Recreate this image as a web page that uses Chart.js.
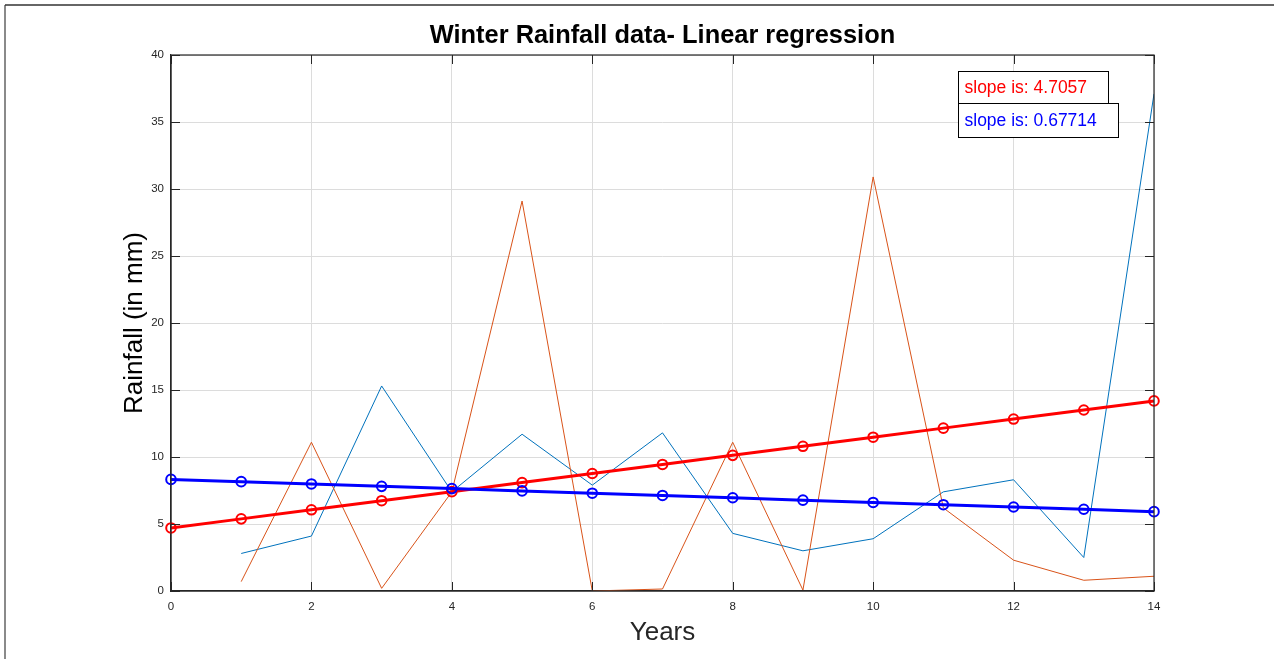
<!DOCTYPE html>
<html>
<head>
<meta charset="utf-8">
<title>Winter Rainfall data- Linear regression</title>
<script src="https://cdn.jsdelivr.net/npm/chart.js@4.4.1/dist/chart.umd.min.js"></script>
<style>
  html, body { margin: 0; padding: 0; background: #ffffff; }
  #wrap { width: 1274px; height: 659px; }
</style>
</head>
<body>
<div id="wrap"><canvas id="chart" width="1274" height="659"></canvas></div>
<script>
// Years observed (x positions of the rainfall records)
const years = [1, 2, 3, 4, 5, 6, 7, 8, 9, 10, 11, 12, 13, 14];
// Winter rainfall, station A (mm)
const rainA = [2.8, 4.1, 15.3, 7.4, 11.7, 7.9, 11.8, 4.3, 3.0, 3.9, 7.4, 8.3, 2.5, 37.1];
// Winter rainfall, station B (mm)
const rainB = [0.7, 11.1, 0.2, 7.4, 29.1, 0.0, 0.15, 11.1, 0.07, 30.9, 6.2, 2.3, 0.8, 1.1];

// Fitted trend lines, sampled at every year from 0 to 14
const fitYears = [0, 1, 2, 3, 4, 5, 6, 7, 8, 9, 10, 11, 12, 13, 14];
const fitRed = [4.7057, 5.3828, 6.0600, 6.7371, 7.4143, 8.0914, 8.7685, 9.4457,
                10.1228, 10.8000, 11.4771, 12.1542, 12.8314, 13.5085, 14.1857];
const fitBlue = [8.33, 8.16, 7.99, 7.81, 7.64, 7.47, 7.30, 7.13,
                 6.96, 6.78, 6.61, 6.44, 6.27, 6.10, 5.92];

// Tick values
const xTicks = [0, 2, 4, 6, 8, 10, 12, 14];
const yTicks = [0, 5, 10, 15, 20, 25, 30, 35, 40];

// Text labels
const chartTitle = 'Winter Rainfall data- Linear regression';
const xTitle = 'Years';
const yTitle = 'Rainfall (in mm)';
const slopeNotes = ['slope is: 4.7057', 'slope is: 0.67714'];

const FONT = '"Liberation Sans", Arial, Helvetica, sans-serif';
const AXIS = '#262626';

const pairs = (xs, ys) => xs.map((x, i) => ({ x: x, y: ys[i] }));

// Frame, box axes, inward tick marks, title and the slope notes
const decorations = {
  id: 'decorations',
  beforeDraw(chart) {
    const ctx = chart.ctx;
    ctx.save();
    ctx.fillStyle = '#ffffff';
    ctx.fillRect(0, 0, chart.width, chart.height);
    // outer figure frame
    ctx.strokeStyle = '#8a8a8a';
    ctx.lineWidth = 2;
    ctx.beginPath();
    ctx.moveTo(5, 659);
    ctx.lineTo(5, 5);
    ctx.stroke();
    ctx.strokeStyle = '#333333';
    ctx.lineWidth = 1.5;
    ctx.beginPath();
    ctx.moveTo(5, 5);
    ctx.lineTo(1274, 5);
    ctx.stroke();
    ctx.restore();
  },
  afterDraw(chart) {
    const ctx = chart.ctx;
    const a = chart.chartArea;
    const xs = chart.scales.x, ys = chart.scales.y;
    ctx.save();
    // axes box
    ctx.strokeStyle = AXIS;
    ctx.lineWidth = 1.2;
    ctx.strokeRect(a.left, a.top, a.right - a.left, a.bottom - a.top);
    // inward ticks on all four sides
    const tl = 9;
    ctx.beginPath();
    xTicks.forEach(v => {
      const px = Math.round(xs.getPixelForValue(v)) + 0.5;
      ctx.moveTo(px, a.bottom); ctx.lineTo(px, a.bottom - tl);
      ctx.moveTo(px, a.top); ctx.lineTo(px, a.top + tl);
    });
    yTicks.forEach(v => {
      const py = Math.round(ys.getPixelForValue(v)) + 0.5;
      ctx.moveTo(a.left, py); ctx.lineTo(a.left + tl, py);
      ctx.moveTo(a.right, py); ctx.lineTo(a.right - tl, py);
    });
    ctx.lineWidth = 1;
    ctx.stroke();

    // title
    ctx.fillStyle = '#000000';
    ctx.font = 'bold 25.4px ' + FONT;
    ctx.textAlign = 'center';
    ctx.textBaseline = 'middle';
    ctx.fillText(chartTitle, (a.left + a.right) / 2, 36);

    // slope notes
    ctx.font = '17.5px ' + FONT;
    ctx.textAlign = 'left';
    const boxes = [
      { x: 958.5, y: 71.5, w: 150, h: 32, color: '#ff0000', text: slopeNotes[0] },
      { x: 958.5, y: 103.5, w: 160, h: 34, color: '#0000ff', text: slopeNotes[1] }
    ];
    boxes.forEach(b => {
      ctx.fillStyle = '#ffffff';
      ctx.fillRect(b.x, b.y, b.w, b.h);
      ctx.strokeStyle = '#000000';
      ctx.lineWidth = 1;
      ctx.strokeRect(b.x, b.y, b.w, b.h);
      ctx.fillStyle = b.color;
      ctx.fillText(b.text, b.x + 6, b.y + b.h / 2 + 1);
    });
    ctx.restore();
  }
};

new Chart(document.getElementById('chart'), {
  type: 'line',
  data: {
    datasets: [
      {
        label: 'Trend (blue)',
        data: pairs(fitYears, fitBlue),
        borderColor: '#0000ff',
        borderWidth: 3,
        pointStyle: 'circle',
        pointRadius: 4.8,
        pointBorderWidth: 2,
        pointBorderColor: '#0000ff',
        pointBackgroundColor: 'rgba(0,0,0,0)',
        clip: false,
        order: 0
      },
      {
        label: 'Trend (red)',
        data: pairs(fitYears, fitRed),
        borderColor: '#ff0000',
        borderWidth: 3,
        pointStyle: 'circle',
        pointRadius: 4.8,
        pointBorderWidth: 2,
        pointBorderColor: '#ff0000',
        pointBackgroundColor: 'rgba(0,0,0,0)',
        clip: false,
        order: 1
      },
      {
        label: 'Station B',
        data: pairs(years, rainB),
        borderColor: '#D95319',
        borderWidth: 1,
        pointRadius: 0,
        order: 2
      },
      {
        label: 'Station A',
        data: pairs(years, rainA),
        borderColor: '#0072BD',
        borderWidth: 1,
        pointRadius: 0,
        order: 3
      }
    ]
  },
  options: {
    responsive: false,
    animation: false,
    devicePixelRatio: 1,
    layout: { padding: { left: 0, top: 55, right: 120, bottom: 0 } },
    plugins: {
      legend: { display: false },
      tooltip: { enabled: false },
      title: { display: false }
    },
    elements: { line: { tension: 0 } },
    scales: {
      x: {
        type: 'linear',
        min: 0,
        max: 14,
        afterFit(scale) { scale.height = 68; },
        afterBuildTicks(scale) { scale.ticks = xTicks.map(v => ({ value: v })); },
        grid: { color: '#dcdcdc', lineWidth: 1, drawTicks: false },
        border: { color: AXIS, width: 1.2 },
        ticks: {
          padding: 9,
          color: AXIS,
          font: { family: FONT, size: 11.5 },
          maxRotation: 0
        },
        title: {
          display: true,
          text: xTitle,
          color: AXIS,
          font: { family: FONT, size: 26 },
          padding: { top: 0, bottom: 11 }
        }
      },
      y: {
        type: 'linear',
        min: 0,
        max: 40,
        afterFit(scale) { scale.width = 171; },
        afterBuildTicks(scale) { scale.ticks = yTicks.map(v => ({ value: v })); },
        grid: { color: '#dcdcdc', lineWidth: 1, drawTicks: false },
        border: { color: AXIS, width: 1.2 },
        ticks: {
          padding: 7,
          color: AXIS,
          font: { family: FONT, size: 11.5 }
        },
        title: {
          display: true,
          text: yTitle,
          color: '#000000',
          font: { family: FONT, size: 26 },
          padding: { top: 119, bottom: 0 }
        }
      }
    }
  },
  plugins: [decorations]
});
</script>
</body>
</html>
